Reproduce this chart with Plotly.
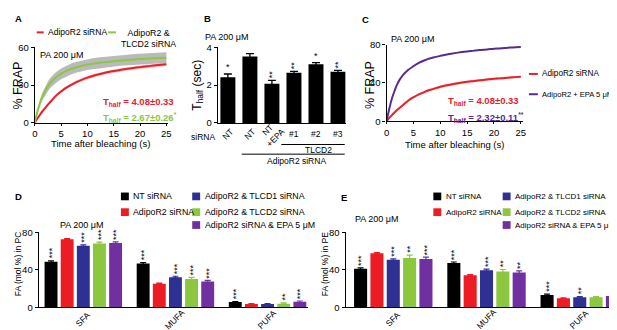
import plotly.graph_objects as go

W, H = 617, 330
FONT = "Liberation Sans, Arial, sans-serif"

# ---------------- data ----------------
time_s = [0, 0.5, 1, 1.5, 2, 2.5, 3, 4, 5, 6, 7, 8, 9, 10, 11, 12, 13, 14, 15,
          16, 17, 18, 19, 20, 21, 22, 23, 24, 25]
frap_adipor2 = [0, 3.5, 6.5, 9.5, 12, 14.5, 16.8, 21.5, 25, 28, 30.5, 32.6, 34.4, 36,
                37.3, 38.5, 39.5, 40.4, 41.2, 41.9, 42.6, 43.2, 43.8, 44.3, 44.8,
                45.3, 45.7, 46.1, 46.5]
frap_adipor2_err = [0, 0.5, 0.8, 1, 1.1, 1.2, 1.2, 1.3, 1.3, 1.3, 1.3, 1.3, 1.3, 1.3,
                    1.3, 1.3, 1.3, 1.3, 1.3, 1.3, 1.3, 1.3, 1.3, 1.3, 1.3, 1.3, 1.3,
                    1.3, 1.3]
frap_tlcd2 = [0, 9, 16, 21.5, 25.5, 29, 32, 36, 39, 41.3, 43, 44.3, 45.4, 46.3, 47,
              47.6, 48.1, 48.6, 49, 49.4, 49.8, 50.1, 50.4, 50.7, 51, 51.2, 51.4,
              51.6, 51.8]
frap_tlcd2_err = [0, 1.5, 2.5, 3, 3.5, 3.8, 4, 4.2, 4.3, 4.3, 4.3, 4.3, 4.3, 4.3, 4.3,
                  4.3, 4.3, 4.3, 4.3, 4.3, 4.3, 4.3, 4.3, 4.3, 4.3, 4.3, 4.3, 4.3, 4.3]
frap_epa = [0, 13, 24, 32, 39, 44, 48, 53.5, 57.5, 61, 63.5, 65.5, 67, 68.3, 69.5,
            70.5, 71.4, 72.2, 72.9, 73.5, 74.1, 74.7, 75.2, 75.7, 76.1, 76.5, 76.9,
            77.2, 77.5]

thalf_labels = ["NT", "NT", "NT<br>+EPA", "#1", "#2", "#3"]
thalf_values = [2.42, 3.52, 2.08, 2.66, 3.11, 2.71]
thalf_err = [0.17, 0.15, 0.17, 0.07, 0.08, 0.07]
thalf_sig = ["*", "", "**", "**", "*", "**"]

fa_classes = ["SFA", "MUFA", "PUFA"]
group_names = ["NT siRNA", "AdipoR2 siRNA", "AdipoR2 & TLCD1 siRNA",
               "AdipoR2 & TLCD2 siRNA", "AdipoR2 siRNA & EPA 5 μM"]

pc_nt = [48.5, 46.5, 5.5]
pc_adipor2 = [72.5, 25, 3.4]
pc_tlcd1 = [65.5, 32, 3.3]
pc_tlcd2 = [68, 30, 3.8]
pc_epa = [68.5, 27.5, 5.8]
pc_err = [[1, 1, 0.5], [0.7, 0.7, 0.5], [1, 1, 0.5], [1.5, 1.8, 0.8], [1.2, 1, 0.8]]
pc_sig = [["***", "***", "***"], ["", "", ""], ["***", "***", ""],
          ["***", "***", "**"], ["***", "***", "***"]]

pe_nt = [41, 47, 13]
pe_adipor2 = [57.5, 34, 9.5]
pe_tlcd1 = [50.5, 39.5, 10.5]
pe_tlcd2 = [52.5, 38, 10.5]
pe_epa = [51.5, 37, 12]
pe_err = [[1, 1.2, 1], [0.8, 0.8, 0.5], [1, 1.2, 0.8], [3, 2.2, 0.8], [2, 1.8, 1.2]]
pe_sig = [["***", "***", "***"], ["", "", ""], ["***", "***", "**"],
          ["**", "**", ""], ["***", "**", "***"]]

# ---------------- style ----------------
RED = "#e8202a"
GREEN = "#8dc63f"
PURPLE_LINE = "#5b2a91"
group_colors = ["#000000", "#ed1c24", "#2e3192", "#8dc63f", "#7030a0"]
BARGAP, BARGROUPGAP = 0.124, 0.2


def PX(x):
    return x / W


def PY(y):
    return 1 - y / H


fig = go.Figure()


def band(x, y, e, xa, ya, color):
    up = [a + b for a, b in zip(y, e)]
    lo = [a - b for a, b in zip(y, e)]
    fig.add_trace(go.Scatter(x=list(x) + list(x)[::-1], y=up + lo[::-1], fill="toself",
                             fillcolor=color, line=dict(width=0), mode="lines",
                             hoverinfo="skip", xaxis=xa, yaxis=ya, showlegend=False))


# Panel A
band(time_s, frap_tlcd2, frap_tlcd2_err, "x", "y", "rgba(140,140,140,0.6)")
band(time_s, frap_adipor2, frap_adipor2_err, "x", "y", "rgba(232,32,42,0.25)")
fig.add_trace(go.Scatter(x=time_s, y=frap_adipor2, mode="lines", line=dict(color=RED, width=2, shape="spline"),
                         xaxis="x", yaxis="y", showlegend=False))
fig.add_trace(go.Scatter(x=time_s, y=frap_tlcd2, mode="lines", line=dict(color=GREEN, width=2, shape="spline"),
                         xaxis="x", yaxis="y", showlegend=False))

# Panel B
fig.add_trace(go.Bar(x=list(range(len(thalf_values))), y=thalf_values, width=0.68,
                     marker=dict(color="black", line=dict(width=0)),
                     error_y=dict(type="data", array=thalf_err, color="black", thickness=1.3, width=4),
                     xaxis="x2", yaxis="y2", showlegend=False))

# Panel C
band(time_s, frap_adipor2, frap_adipor2_err, "x3", "y3", "rgba(232,32,42,0.25)")
fig.add_trace(go.Scatter(x=time_s, y=frap_adipor2, mode="lines", line=dict(color=RED, width=2, shape="spline"),
                         xaxis="x3", yaxis="y3", showlegend=False))
fig.add_trace(go.Scatter(x=time_s, y=frap_epa, mode="lines", line=dict(color=PURPLE_LINE, width=2, shape="spline"),
                         xaxis="x3", yaxis="y3", showlegend=False))

# Panels D, E
pc_all = [pc_nt, pc_adipor2, pc_tlcd1, pc_tlcd2, pc_epa]
pe_all = [pe_nt, pe_adipor2, pe_tlcd1, pe_tlcd2, pe_epa]
for vals_all, errs, xa, ya in [(pc_all, pc_err, "x4", "y4"), (pe_all, pe_err, "x5", "y5")]:
    for j, (name, vals) in enumerate(zip(group_names, vals_all)):
        fig.add_trace(go.Bar(x=fa_classes, y=vals, name=name,
                             marker=dict(color=group_colors[j], line=dict(width=0)),
                             error_y=dict(type="data", array=errs[j], color=group_colors[j],
                                          thickness=1.2, width=3),
                             xaxis=xa, yaxis=ya, showlegend=False))

ann = []


def text(t, x, y, size=9, color="black", xanchor="left", yanchor="middle", angle=0, bold=False, **kw):
    if bold:
        t = "<b>" + t + "</b>"
    ann.append(dict(text=t, x=PX(x), y=PY(y), xref="paper", yref="paper", showarrow=False,
                    xanchor=xanchor, yanchor=yanchor, textangle=angle,
                    font=dict(family=FONT, size=size, color=color), **kw))


# panel letters
for letter, (lx, ly) in zip("ABCDE", [(2, 5), (193, 5), (352, 5.5), (2.5, 189), (331, 189.5)]):
    text(letter, lx, ly, size=9.5, bold=True)

shapes = []


def hline(x0, x1, y, color, width=2):
    shapes.append(dict(type="line", xref="paper", yref="paper", x0=PX(x0), x1=PX(x1),
                       y0=PY(y), y1=PY(y), line=dict(color=color, width=width)))


# Panel A legend
hline(26, 33, 19, RED)
text(group_names[1], 35, 19, size=8.5)
hline(98, 106, 19, GREEN)
text("AdipoR2 &<br>TLCD2 siRNA", 109, 25, size=8.8)
text("PA 200 μM", 27, 42, size=9)
text("T<sub>half</sub> = 4.08±0.33", 91, 91, size=9.5, color=RED, bold=True)
text("T<sub>half</sub> = 2.67±0.26<sup>*</sup>", 91, 107, size=9.5, color=GREEN, bold=True)
text("% FRAP", 7, 74, size=12.5, xanchor="center", angle=-90)
text("Time after bleaching (s)", 90, 134, size=9.5, xanchor="center")

# Panel B labels
text("PA 200 μM", 194, 24, size=9)
text("T<sub>half</sub> (sec)", 188, 74, size=12, xanchor="center", angle=-90)
text("siRNA", 180, 127, size=8.5)
for i, lab in enumerate(thalf_labels):
    ann.append(dict(text=lab, x=i, y=PY(124), xref="x2", yref="paper", showarrow=False,
                    xanchor="center", yanchor="middle",
                    textangle=-45 if "NT" in lab else 0,
                    font=dict(family=FONT, size=8.5, color="black")))
    if thalf_sig[i]:
        ann.append(dict(text=thalf_sig[i], x=i, y=thalf_values[i] + thalf_err[i], xref="x2", yref="y2",
                        showarrow=False, xanchor="center", yanchor="bottom",
                        textangle=-90 if len(thalf_sig[i]) > 1 else 0,
                        font=dict(family=FONT, size=9, color="black")))
hline(273, 337, 135, "black", 1)
text("TLCD2", 311, 141, size=8.5, xanchor="center")
hline(233, 337, 145, "black", 1)
text("AdipoR2 siRNA", 288, 152, size=8.5, xanchor="center")

# Panel C labels
text("PA 200 μM", 382, 26, size=9)
text("% FRAP", 362, 73, size=12.5, xanchor="center", angle=-90)
text("Time after bleaching (s)", 448, 135, size=9.5, xanchor="center")
hline(523, 532, 62, RED)
text(group_names[1], 534, 62, size=8.2)
hline(523, 532, 83, PURPLE_LINE)
text("AdipoR2 + EPA 5 μM", 534, 83, size=7.6)
text("T<sub>half</sub> = 4.08±0.33", 439, 90, size=9.5, color=RED, bold=True)
text("T<sub>half</sub> = 2.32±0.11<sup>**</sup>", 439, 107, size=9.5, color=PURPLE_LINE, bold=True)

# Panels D/E labels and legends
slot = (1 - BARGAP) / len(group_names)
for xa, ya, vals_all, errs, sigs, title, tx, pa, leg0, leg1, legsize in [
        ("x4", "y4", pc_all, pc_err, pc_sig, "FA (mol %) in PC", 7, (47, 218), 111, 183, 8.8),
        ("x5", "y5", pe_all, pe_err, pe_sig, "FA (mol %) in PE", 317, (345, 212), 426.5, 496.5, 8.0)]:
    text(title, tx, 258, size=8.5, xanchor="center", angle=-90)
    text("PA 200 μM", pa[0], pa[1], size=9)
    for i, cls in enumerate(fa_classes):
        ann.append(dict(text=cls, x=i, y=PY(316), xref=xa, yref="paper", showarrow=False,
                        xanchor="center", yanchor="middle", textangle=-45,
                        font=dict(family=FONT, size=8.5, color="black")))
        for j in range(len(group_names)):
            s = sigs[j][i]
            if s:
                ann.append(dict(text=s, x=i + (j - 2) * slot, y=vals_all[j][i] + errs[j][i],
                                xref=xa, yref=ya, showarrow=False, xanchor="center", yanchor="bottom",
                                textangle=-90, xshift=1,
                                font=dict(family=FONT, size=9, color="black")))
    pos = [(leg0, 188.7), (leg0, 205), (leg1, 188.7), (leg1, 205), (leg1, 218.3)]
    for j, (name, (sx, sy)) in enumerate(zip(group_names, pos)):
        shapes.append(dict(type="rect", xref="paper", yref="paper", x0=PX(sx), x1=PX(sx + 8),
                           y0=PY(sy + 4), y1=PY(sy - 4), fillcolor=group_colors[j], line=dict(width=0)))
        text(name, sx + 10.5, sy, size=legsize)

axis_common = dict(showline=True, linecolor="black", linewidth=1.3, ticks="outside", ticklen=3,
                   tickwidth=1.2, tickcolor="black", showgrid=False, zeroline=False,
                   tickfont=dict(family=FONT, size=9.5, color="black"), fixedrange=True)
xtime = {**axis_common, "ticklen": 2}

yA = [PY(112.7), PY(34.5)]
fig.update_layout(
    width=W, height=H, margin=dict(l=0, r=0, t=0, b=0), autosize=False,
    paper_bgcolor="white", plot_bgcolor="white", showlegend=False,
    barmode="group", bargap=BARGAP, bargroupgap=BARGROUPGAP,
    xaxis=dict(domain=[PX(24), PX(159)], range=[0, 25.4], dtick=5, anchor="y", **xtime),
    yaxis=dict(domain=yA, range=[0, 60], dtick=30, anchor="x", **axis_common),
    xaxis2=dict(domain=[PX(209), PX(338)], range=[-0.45, 5.35], anchor="y2",
                **{**axis_common, "ticks": "", "showticklabels": False}),
    yaxis2=dict(domain=yA, range=[0, 4], dtick=2, anchor="x2", **axis_common),
    xaxis3=dict(domain=[PX(379.3), PX(517)], range=[0, 25.4], dtick=5, anchor="y3", **xtime),
    yaxis3=dict(domain=[PY(111), PY(31.7)], range=[0, 80], dtick=40, anchor="x3", **axis_common),
    xaxis4=dict(domain=[PX(28), PX(300)], range=[-0.484, 2.44], anchor="y4", type="category",
                **{**axis_common, "ticks": "", "showticklabels": False}),
    yaxis4=dict(domain=[PY(303.3), PY(225.7)], range=[0, 80], dtick=40, anchor="x4", **axis_common),
    xaxis5=dict(domain=[PX(338), PX(612)], range=[-0.51, 2.40], anchor="y5", type="category",
                **{**axis_common, "ticks": "", "showticklabels": False}),
    yaxis5=dict(domain=[PY(303.3), PY(225.7)], range=[0, 80], dtick=40, anchor="x5", **axis_common),
    annotations=ann, shapes=shapes,
)

fig.write_html("out.html")
